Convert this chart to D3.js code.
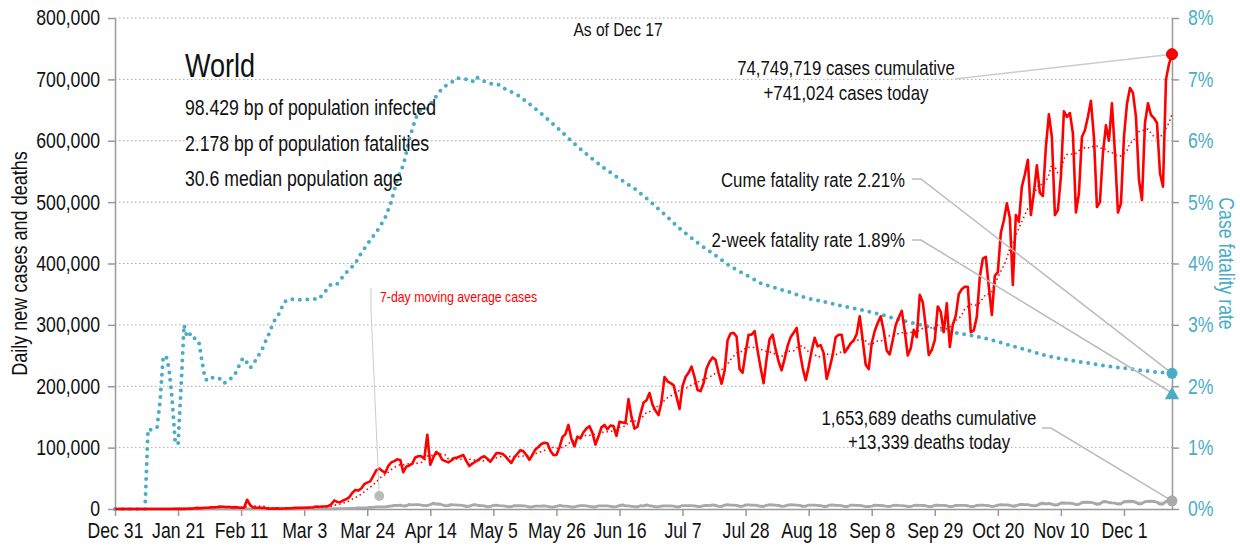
<!DOCTYPE html>
<html>
<head>
<meta charset="utf-8">
<script src="https://cdn.jsdelivr.net/npm/d3@7"></script>
<style>
  body { margin: 0; background: #fff; }
  svg text { font-family: "Liberation Sans", Arial, sans-serif; fill: #111; }
</style>
</head>
<body>
<svg id="chart" width="1240" height="546"></svg>
<script>
"use strict";

// first day of the series, values below are one per day from here
const startDate = "2019-12-31";

// daily new cases, thousands (Dec 31 .. Dec 17)
const casesK = [
  0.03,0,0,0.02,0,0.01,0,0,0,0,
  0,0,0,0,0,0,0,0,0.02,0.1,
  0.14,0.15,0.15,0.26,0.45,0.69,0.77,1.78,1.46,1.74,
  1.98,2.1,2.59,2.83,3.23,3.89,3.7,3.15,3.39,2.65,
  3.0,2.5,2.0,2.05,15.1,6.5,2.6,2.1,2.05,1.9,
  1.75,0.4,0.9,0.65,1.0,0.5,0.85,0.95,1.15,1.4,
  1.9,2.0,1.8,2.1,2.3,2.5,2.8,3.9,3.7,4.1,
  4.0,4.7,7.5,14,11.5,11,14,16,19,26,
  31,30,33.5,40.5,43,45,54,63,66,62,
  59,70,76,78,81,80,60,69,71,74,
  84,86,86,82,121,72,84,93,89,80,
  78,76,79,83,84,86,88,78,70,74,
  77,80,84,86,82,77,84,91,91,90,
  86,80,75,84,90,96,94,88,80,88,
  97,101,106,108,107,95,88,88,100,117,
  122,137,114,102,118,115,125,131,135,124,
  105,118,133,137,130,136,135,119,142,141,
  140,179,150,131,134,155,173,177,189,170,
  160,153,175,215,208,205,202,183,163,200,
  215,222,232,215,194,192,205,229,240,247,
  243,222,204,225,275,286,287,281,228,222,
  255,284,284,290,258,230,205,245,277,284,
  260,240,226,245,266,280,287,295,258,230,
  210,232,258,279,265,267,254,212,230,251,
  280,284,284,255,262,270,275,285,314,275,
  235,228,270,290,303,314,290,258,252,275,
  300,312,323,290,250,262,292,280,349,337,
  297,251,259,275,330,321,288,335,264,300,
  315,350,358,362,362,288,291,313,378,408,
  411,362,316,380,386,450,470,498,474,365,
  479,468,525,545,569,479,515,560,515,510,
  590,643,606,479,487,541,648,639,645,612,
  483,514,606,617,639,665,606,492,500,580,
  625,600,661,580,483,498,606,660,686,678,
  639,536,503,629,661,642,637,629,547,525,
  700,725,741.024
];

// daily new deaths, thousands
const deathsK = [
  0,0,0,0,0,0,0,0,0,0,
  0,0.001,0,0,0,0,0.001,0,0.001,0.001,
  0.002,0.003,0.01,0.008,0.016,0.015,0.015,0.024,0.026,0.026,
  0.038,0.043,0.046,0.045,0.057,0.064,0.066,0.073,0.073,0.086,
  0.089,0.097,0.108,0.097,0.254,0.121,0.143,0.142,0.106,0.098,
  0.139,0.115,0.118,0.109,0.097,0.15,0.071,0.052,0.029,0.044,
  0.037,0.058,0.067,0.081,0.094,0.084,0.094,0.105,0.227,0.191,
  0.214,0.327,0.38,0.436,0.416,0.7,0.74,0.74,1.02,1.14,
  1.32,1.61,1.74,1.91,2.15,2.72,2.8,3.35,3.6,3.33,
  3.58,4.47,5.0,5.8,5.8,6.4,4.9,5.3,7.5,6.8,
  7.1,7.1,6.2,5.4,5.6,7.4,9.5,8.1,8.5,6.5,
  5.0,5.5,7.2,6.8,6.4,6.2,5.6,3.9,4.3,6.7,
  7.0,5.7,5.6,5.1,3.4,3.8,6.0,6.2,5.6,5.2,
  4.7,3.6,3.7,5.5,5.3,5.3,5.2,4.5,3.2,3.4,
  4.8,4.8,4.9,5.2,4.3,3.0,2.9,4.3,5.7,4.9,
  4.8,4.3,3.1,3.2,4.8,5.4,5.4,5.0,4.4,3.3,
  3.3,5.0,5.2,5.1,5.0,4.3,3.3,3.8,5.4,6.7,
  5.1,5.0,4.3,3.7,3.5,5.4,5.2,6.7,5.3,4.5,
  3.4,3.6,4.9,5.2,5.1,5.2,4.6,3.6,3.7,5.6,
  5.5,5.4,5.4,5.2,4.1,3.8,5.6,5.9,5.6,6.9,
  5.8,4.4,4.0,6.4,7.1,6.3,6.2,6.0,4.3,4.4,
  6.6,6.8,6.2,6.2,5.6,4.3,4.1,6.1,7.0,6.8,
  6.3,5.9,4.4,4.6,6.3,7.0,6.6,6.2,5.9,4.3,
  4.4,6.4,6.4,6.2,6.0,5.4,4.1,4.0,6.4,6.5,
  6.0,5.9,5.5,4.0,4.1,6.2,6.3,5.8,5.8,5.0,
  4.0,3.9,4.8,6.2,5.9,5.7,5.3,4.2,4.1,5.6,
  6.2,5.8,5.6,5.2,3.9,4.0,5.7,6.2,5.9,5.8,
  5.3,3.9,3.9,6.1,6.1,5.9,6.0,5.3,4.0,4.4,
  5.8,6.0,6.0,5.8,5.3,3.9,4.1,5.8,6.4,6.2,
  6.0,5.6,4.1,4.6,6.3,7.0,6.6,6.6,6.1,4.5,
  4.9,7.0,7.4,7.1,7.1,6.1,5.1,5.6,8.6,9.4,
  8.5,9.1,7.9,6.4,6.9,9.8,10.0,9.6,9.6,8.9,
  7.0,7.5,10.7,11.2,11.0,10.8,9.6,7.6,8.2,12.0,
  12.2,10.6,9.9,9.5,7.8,8.4,12.1,12.4,12.6,12.4,
  10.7,7.9,8.7,11.9,12.5,12.7,12.4,11.0,7.8,8.1,
  12.4,13.5,13.339
];

// cumulative case fatality rate (%), [day offset, value]
const fatalityRate = [
  [0,0],[10,0],[11,1.3],[12,1.29],[13,1.3],[14,1.33],[15,1.75],[16,2.45],[17,2.5],[18,2.28],
  [19,1.8],[20,1.12],[21,1.05],[22,1.99],[23,3.0],[24,2.8],[25,2.85],[26,2.85],[27,2.72],[28,2.7],
  [29,2.4],[30,2.12],[31,2.09],[32,2.13],[33,2.15],[34,2.14],[35,2.12],[36,2.05],[37,2.06],[38,2.09],
  [39,2.15],[40,2.2],[41,2.3],[42,2.42],[43,2.46],[44,2.38],[45,2.3],[46,2.35],[47,2.44],[48,2.52],
  [49,2.6],[50,2.72],[51,2.82],[52,2.95],[53,3.06],[54,3.13],[55,3.21],[56,3.34],[57,3.4],[58,3.42],
  [62,3.41],[66,3.42],[68,3.42],[69,3.49],[71,3.6],[72,3.67],[74,3.67],[77,3.85],[80,4.0],[82,4.17],
  [85,4.38],[88,4.58],[90,4.75],[92,5.0],[94,5.38],[96,5.6],[97,5.8],[98,6.03],[100,6.34],[101,6.47],
  [102,6.5],[104,6.52],[106,6.66],[109,6.86],[113,6.98],[114,7.02],[117,7.0],[119,6.96],[120,7.04],[122,7.0],
  [124,6.94],[128,6.91],[130,6.84],[134,6.75],[138,6.6],[143,6.4],[148,6.18],[153,5.95],[158,5.74],[163,5.55],
  [168,5.38],[173,5.22],[178,5.02],[183,4.8],[188,4.57],[195,4.3],[200,4.13],[205,3.95],[210,3.82],[215,3.68],
  [220,3.6],[225,3.53],[230,3.44],[235,3.39],[240,3.33],[245,3.28],[250,3.23],[255,3.17],[260,3.1],[265,3.04],
  [270,2.98],[275,2.92],[280,2.87],[285,2.83],[290,2.78],[295,2.71],[300,2.64],[305,2.57],[310,2.5],[315,2.45],
  [320,2.41],[325,2.37],[330,2.33],[335,2.3],[340,2.27],[345,2.24],[352,2.21]
];

const xTickDates = ["2019-12-31","2020-01-21","2020-02-11","2020-03-03","2020-03-24","2020-04-14",
  "2020-05-05","2020-05-26","2020-06-16","2020-07-07","2020-07-28","2020-08-18","2020-09-08",
  "2020-09-29","2020-10-20","2020-11-10","2020-12-01"];
const yTicks = [0,100000,200000,300000,400000,500000,600000,700000,800000];
const rateTicks = [0,1,2,3,4,5,6,7,8];

const totals = { cases: "74,749,719", casesToday: "+741,024", deaths: "1,653,689", deathsToday: "+13,339" };
const cumeRate = 2.21;
const twoWeekRate = 1.89;
const countryInfo = ["98.429 bp of population infected", "2.178 bp of population fatalities", "30.6 median population age"];

const RED = "#ff0000", TEAL = "#4bacc6", GREY = "#a8a8a8", AXIS = "#999";
const CONDENSE = 0.82; // no narrow face installed, squeeze the regular one

const parse = d3.utcParse("%Y-%m-%d");
const t0 = parse(startDate);
const dayToDate = (i) => d3.utcDay.offset(t0, i);

const cases = casesK.map((v, i) => ({ date: dayToDate(i), v: v * 1000 }));
const deaths = deathsK.map((v, i) => ({ date: dayToDate(i), v: v * 1000 }));
const ma = (arr) => arr.map((d, i) => ({ date: d.date, v: d3.mean(arr.slice(Math.max(0, i - 6), i + 1), (e) => e.v) }));
const casesMA = ma(cases);
const deathsMA = ma(deaths);
const rate = fatalityRate.map(([i, v]) => ({ date: dayToDate(i), v }));
const last = cases.length - 1;

const margin = { left: 115, right: 68, top: 18, bottom: 37 };
const W = 1240, H = 546;

const x = d3.scaleUtc().domain([t0, dayToDate(last)]).range([margin.left, W - margin.right]);
const y = d3.scaleLinear().domain([0, 800000]).range([H - margin.bottom, margin.top]);
const yR = d3.scaleLinear().domain([0, 8]).range([H - margin.bottom, margin.top]);

const svg = d3.select("#chart");

// grid
svg.append("g")
  .selectAll("line")
  .data(yTicks.slice(1))
  .join("line")
  .attr("x1", margin.left).attr("x2", W - margin.right)
  .attr("y1", (d) => y(d)).attr("y2", (d) => y(d))
  .attr("stroke", "#aaa").attr("stroke-dasharray", "1.5,2.5");

function styleAxis(g, color) {
  g.select(".domain").attr("stroke", AXIS).attr("stroke-width", 1.5);
  g.selectAll(".tick line").attr("stroke", AXIS).attr("stroke-width", 1.5);
  g.selectAll(".tick text").style("font-size", "21.5px").style("fill", color);
}

svg.append("g")
  .attr("transform", `translate(${margin.left},0)`)
  .call(d3.axisLeft(y).tickValues(yTicks).tickFormat(d3.format(",")).tickSize(7).tickPadding(8).tickSizeOuter(0))
  .call((g) => styleAxis(g, "#111"));

svg.append("g")
  .attr("transform", `translate(${W - margin.right},0)`)
  .call(d3.axisRight(yR).tickValues(rateTicks).tickFormat((d) => d + "%").tickSize(7).tickPadding(9).tickSizeOuter(0))
  .call((g) => styleAxis(g, TEAL));

svg.append("g")
  .attr("transform", `translate(0,${H - margin.bottom})`)
  .call(d3.axisBottom(x).tickValues(xTickDates.map(parse)).tickFormat(d3.utcFormat("%b %-d")).tickSize(7).tickPadding(7).tickSizeOuter(0))
  .call((g) => styleAxis(g, "#111"));

// axis titles
svg.append("text")
  .attr("transform", `translate(27,${(margin.top + H - margin.bottom) / 2}) rotate(-90)`)
  .attr("text-anchor", "middle").style("font-size", "22px")
  .text("Daily new cases and deaths");

svg.append("text")
  .attr("transform", `translate(1219,${(margin.top + H - margin.bottom) / 2}) rotate(90)`)
  .attr("text-anchor", "middle").style("font-size", "21.5px").style("fill", TEAL)
  .text("Case fatality rate");

// lines
const line = (sc) => d3.line().x((d) => x(d.date)).y((d) => sc(d.v));

svg.append("path").datum(rate).attr("d", line(yR))
  .attr("fill", "none").attr("stroke", TEAL).attr("stroke-width", 4)
  .attr("stroke-linecap", "round").attr("stroke-dasharray", "0,7.5");

svg.append("path").datum(deathsMA).attr("d", line(y))
  .attr("fill", "none").attr("stroke", "#cfcfcf").attr("stroke-width", 1.5);

svg.append("path").datum(deaths).attr("d", line(y))
  .attr("fill", "none").attr("stroke", GREY).attr("stroke-width", 2.8).attr("stroke-linejoin", "round");

svg.append("path").datum(cases).attr("d", line(y))
  .attr("fill", "none").attr("stroke", RED).attr("stroke-width", 2.6).attr("stroke-linejoin", "round");

svg.append("path").datum(casesMA).attr("d", line(y))
  .attr("fill", "none").attr("stroke", RED).attr("stroke-width", 1.6).attr("stroke-dasharray", "1.5,3");

// headline text
svg.append("text").attr("x", 618).attr("y", 36).attr("text-anchor", "middle").style("font-size", "19px").text("As of Dec 17");
svg.append("text").attr("x", 185).attr("y", 77).style("font-size", "33px").text("World");
svg.append("g").selectAll("text").data(countryInfo).join("text")
  .attr("x", 185).attr("y", (d, i) => 115 + i * 35.5)
  .style("font-size", "21.5px").text((d) => d);

// callouts
const lastDate = dayToDate(last);
const lx = x(lastDate);
const callout = (pts, color) => svg.append("path").attr("d", d3.line()(pts))
  .attr("fill", "none").attr("stroke", color).attr("stroke-width", 1.5);

callout([[955, 79], [lx, y(cases[last].v)]], "#ccc");
callout([[912, 179], [921, 179], [lx, yR(cumeRate)]], "#bbb");
callout([[912, 240], [921, 240], [lx, yR(twoWeekRate)]], "#bbb");
callout([[1042, 428], [1051, 428], [lx, y(deaths[last].v)]], "#bbb");

// 7-day label pointer
const maRef = dayToDate(88);
svg.append("path").attr("d", d3.line()([[371, 288], [371, 310], [x(maRef), 496]]))
  .attr("fill", "none").attr("stroke", "#ccc").attr("stroke-width", 1);
svg.append("circle").attr("cx", x(maRef)).attr("cy", 496).attr("r", 5).attr("fill", "#bbb");
svg.append("text").attr("x", 380).attr("y", 302).style("font-size", "15px").style("fill", RED).text("7-day moving average cases");

svg.append("circle").attr("cx", lx).attr("cy", y(cases[last].v)).attr("r", 5.5).attr("fill", RED).attr("stroke", "#c00");
svg.append("circle").attr("cx", lx).attr("cy", yR(cumeRate)).attr("r", 5.5).attr("fill", TEAL);
svg.append("path").attr("d", d3.symbol(d3.symbolTriangle, 90)()).attr("transform", `translate(${lx},${yR(twoWeekRate) + 2})`).attr("fill", TEAL);
svg.append("circle").attr("cx", lx).attr("cy", y(deaths[last].v)).attr("r", 5.5).attr("fill", "#aaa");

const label = (tx, ty, anchor, text) => svg.append("text").attr("x", tx).attr("y", ty)
  .attr("text-anchor", anchor).style("font-size", "20.5px").text(text);

label(846, 75, "middle", `${totals.cases} cases cumulative`);
label(846, 100, "middle", `${totals.casesToday} cases today`);
label(905, 187, "end", `Cume fatality rate ${cumeRate}%`);
label(905, 247, "end", `2-week fatality rate ${twoWeekRate}%`);
label(929, 425, "middle", `${totals.deaths} deaths cumulative`);
label(929, 449, "middle", `${totals.deathsToday} deaths today`);

// condensed look
svg.selectAll("text").each(function () {
  const w = this.getComputedTextLength();
  this.setAttribute("textLength", w * CONDENSE);
  this.setAttribute("lengthAdjust", "spacingAndGlyphs");
});
</script>
</body>
</html>
